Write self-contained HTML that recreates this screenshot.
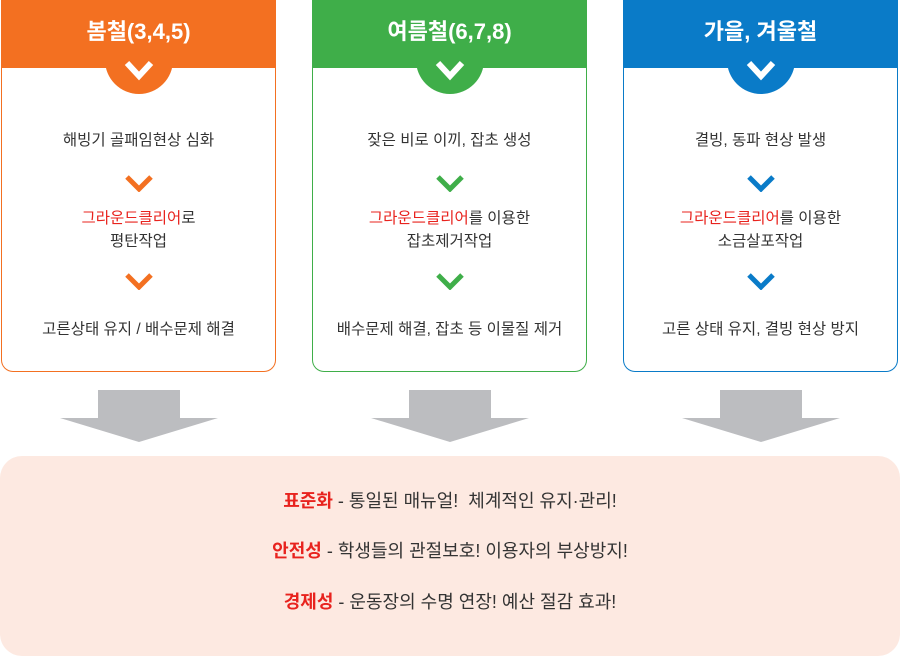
<!DOCTYPE html><html><head><meta charset="utf-8"><style>
body{margin:0;width:900px;height:643px;background:#fff;font-family:"Liberation Sans","Noto Sans CJK KR",sans-serif;position:relative;overflow:hidden}
.box{position:absolute;top:0;width:275px;height:372px;border:1px solid;border-top:none;border-radius:0 0 12px 12px;box-sizing:border-box}
.hd{position:absolute;left:-1px;right:-1px;top:0;height:68px;color:#fff;font-size:22px;font-weight:bold;text-align:center;line-height:64px}
.circ{position:absolute;left:50%;top:50px;width:68px;height:44px;margin-left:-34px;border-radius:0 0 34px 34px;overflow:hidden}
.circ svg{position:absolute;left:0;top:0}
.t{position:absolute;left:0;right:0;text-align:center;font-size:15.5px;color:#333;line-height:23px}
.r{color:#e8231e}
.ch{position:absolute;left:50%;margin-left:-15px}
.arr{position:absolute;top:390px}
.panel{position:absolute;left:0;top:456px;width:900px;height:200px;background:#fde9e1;border-radius:22px}
.pl{position:absolute;left:0;right:0;text-align:center;font-size:18px;color:#333}
.pl b{color:#e8231e}
</style></head><body>
<div class="box" style="left:1px;border-color:#f37021">
<div class="hd" style="background:#f37021">봄철(3,4,5)</div>
<div class="circ" style="background:#f37021"><svg width="68" height="44"><polyline points="22,13 34,26 46,13" fill="none" stroke="#fff" stroke-width="6"/></svg></div>
<div class="t" style="top:129px">해빙기 골패임현상 심화</div>
<svg class="ch" style="top:174px" width="30" height="18"><polyline points="3,3 15,15 27,3" fill="none" stroke="#f37021" stroke-width="5"/></svg>
<div class="t" style="top:207px"><span class="r">그라운드클리어</span>로<br>평탄작업</div>
<svg class="ch" style="top:272px" width="30" height="18"><polyline points="3,3 15,15 27,3" fill="none" stroke="#f37021" stroke-width="5"/></svg>
<div class="t" style="top:318px">고른상태 유지 / 배수문제 해결</div>
</div>
<div class="box" style="left:312px;border-color:#3fae49">
<div class="hd" style="background:#3fae49">여름철(6,7,8)</div>
<div class="circ" style="background:#3fae49"><svg width="68" height="44"><polyline points="22,13 34,26 46,13" fill="none" stroke="#fff" stroke-width="6"/></svg></div>
<div class="t" style="top:129px">잦은 비로 이끼, 잡초 생성</div>
<svg class="ch" style="top:174px" width="30" height="18"><polyline points="3,3 15,15 27,3" fill="none" stroke="#3fae49" stroke-width="5"/></svg>
<div class="t" style="top:207px"><span class="r">그라운드클리어</span>를 이용한<br>잡초제거작업</div>
<svg class="ch" style="top:272px" width="30" height="18"><polyline points="3,3 15,15 27,3" fill="none" stroke="#3fae49" stroke-width="5"/></svg>
<div class="t" style="top:318px">배수문제 해결, 잡초 등 이물질 제거</div>
</div>
<div class="box" style="left:623px;border-color:#0a7bc8">
<div class="hd" style="background:#0a7bc8">가을, 겨울철</div>
<div class="circ" style="background:#0a7bc8"><svg width="68" height="44"><polyline points="22,13 34,26 46,13" fill="none" stroke="#fff" stroke-width="6"/></svg></div>
<div class="t" style="top:129px">결빙, 동파 현상 발생</div>
<svg class="ch" style="top:174px" width="30" height="18"><polyline points="3,3 15,15 27,3" fill="none" stroke="#0a7bc8" stroke-width="5"/></svg>
<div class="t" style="top:207px"><span class="r">그라운드클리어</span>를 이용한<br>소금살포작업</div>
<svg class="ch" style="top:272px" width="30" height="18"><polyline points="3,3 15,15 27,3" fill="none" stroke="#0a7bc8" stroke-width="5"/></svg>
<div class="t" style="top:318px">고른 상태 유지, 결빙 현상 방지</div>
</div>
<svg class="arr" style="left:60px" width="160" height="54"><polygon points="38,0 120,0 120,28 158,28 79,52 0,28 38,28" fill="#bcbdc0"/></svg>
<svg class="arr" style="left:371px" width="160" height="54"><polygon points="38,0 120,0 120,28 158,28 79,52 0,28 38,28" fill="#bcbdc0"/></svg>
<svg class="arr" style="left:682px" width="160" height="54"><polygon points="38,0 120,0 120,28 158,28 79,52 0,28 38,28" fill="#bcbdc0"/></svg>
<div class="panel"></div>
<div class="pl" style="top:487px"><b>표준화</b> - 통일된 매뉴얼!&nbsp; 체계적인 유지·관리!</div>
<div class="pl" style="top:537px"><b>안전성</b> - 학생들의 관절보호! 이용자의 부상방지!</div>
<div class="pl" style="top:588px"><b>경제성</b> - 운동장의 수명 연장! 예산 절감 효과!</div>
</body></html>
